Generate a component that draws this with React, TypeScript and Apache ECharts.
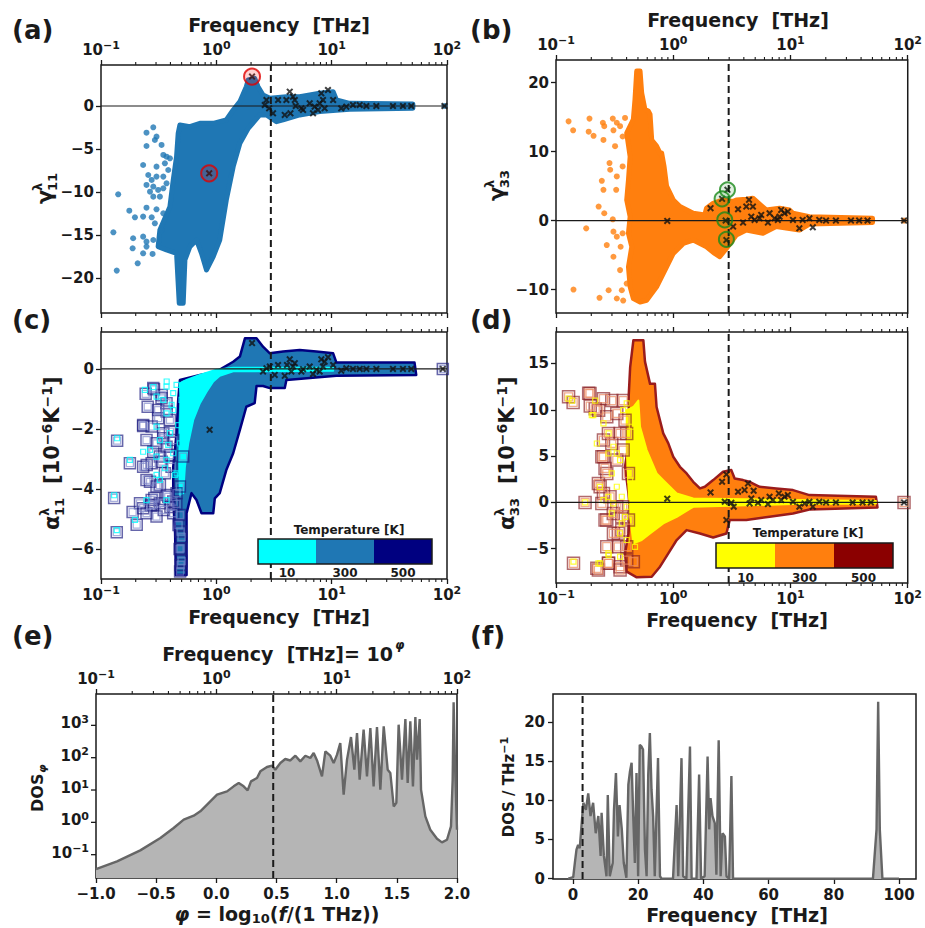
import React, { useEffect, useRef } from "react";
import * as echarts from "echarts";

type Pt = [number, number];

const FONT = "DejaVu Sans";
const INK = "#1a1a1a";
const WIDTH = 925;
const HEIGHT = 928;

// ---------- shared values ----------
const DASH_F = 2.97; // THz
const MINOR_F: number[] = [0.2, 0.3, 0.4, 0.5, 0.6, 0.7, 0.8, 0.9, 2, 3, 4, 5, 6, 7, 8, 9, 20, 30, 40, 50, 60, 70, 80, 90];
const A_YTICKS = [-20, -15, -10, -5, 0];
const B_YTICKS = [-10, 0, 10, 20];
const C_YTICKS = [-6, -4, -2, 0];
const D_YTICKS = [-5, 0, 5, 10, 15];
const E_XTICKS = [-1, -0.5, 0, 0.5, 1, 1.5, 2];
const E_YTICKS = [0.1, 1, 10, 100, 1000];
const F_XTICKS = [0, 20, 40, 60, 80, 100];
const F_YTICKS = [0, 5, 10, 15, 20];
const TEMPS = ["10", "300", "500"];
const BLUE_T = ["#00ffff", "#1f77b4", "#000080"];
const RED_T = ["#ffff00", "#ff7f0e", "#8b0000"];

// ---------- (a) gamma_11 ----------
const A_DENSE: Pt[] = [[0.483,-2.2],[0.59,-2.4],[0.72,-2.01],[0.94,-2.01],[1.22,-1.62],[1.4,-0.46],[1.6,0.51],[1.82,2.25],[1.89,3.03],[2.15,3.22],[2.3,2.25],[2.54,1.29],[2.91,0.9],[4.05,1.09],[5.28,1.09],[7.87,1.48],[10.3,1.67],[11.0,0.7],[14.3,0.31],[50.6,0.24],[50.6,-0.27],[14.3,-0.38],[7.87,-0.65],[5.28,-1.04],[3.79,-1.62],[3.32,-1.82],[2.72,-1.04],[2.38,-1.04],[1.89,-2.59],[1.6,-4.34],[1.4,-7.05],[1.22,-10.93],[1.07,-15.58],[0.94,-17.51],[0.822,-19.07],[0.744,-17.13],[0.673,-15.58],[0.59,-16.35],[0.534,-17.9],[0.516,-22.94],[0.477,-22.94],[0.452,-17.13],[0.37,-16.74],[0.313,-16.35],[0.324,-14.41],[0.396,-11.7],[0.423,-8.6],[0.452,-5.89],[0.467,-3.17]];
const A_DOTS: Pt[] = [[0.284,-2.48],[0.248,-3.1],[0.303,-3.56],[0.248,-4.65],[0.293,-3.95],[0.335,-4.53],[0.347,-5.69],[0.37,-5.89],[0.358,-6.66],[0.396,-6.08],[0.232,-6.86],[0.303,-7.05],[0.383,-7.44],[0.257,-8.02],[0.303,-8.21],[0.275,-8.6],[0.347,-8.21],[0.37,-8.99],[0.347,-9.57],[0.248,-9.18],[0.284,-9.37],[0.313,-9.76],[0.266,-9.96],[0.141,-10.27],[0.284,-10.54],[0.324,-10.54],[0.248,-11.82],[0.303,-12.01],[0.347,-12.48],[0.176,-12.17],[0.232,-12.86],[0.275,-12.94],[0.197,-12.94],[0.293,-13.64],[0.335,-14.41],[0.232,-15.19],[0.248,-15.77],[0.284,-15.58],[0.19,-15.38],[0.128,-14.69],[0.188,-16.55],[0.248,-16.35],[0.232,-17.13],[0.28,-17.2],[0.208,-18.29],[0.137,-19.14],[95,0]];
const A_CROSS: Pt[] = [[2.04,3.42],[0.867,-7.83],[2.63,0.12],[2.72,0.7],[2.87,-0.27],[3.1,-0.85],[3.43,0.7],[3.92,-1.04],[4.05,0.7],[4.33,1.67],[4.39,-0.85],[4.62,1.09],[4.79,0.7],[4.88,0],[5.46,-0.27],[5.65,-0.46],[6.45,0.31],[6.89,-0.85],[7.12,-0.08],[7.61,-0.46],[7.87,0.31],[8.13,1.48],[8.41,0.7],[8.69,-0.27],[9.29,1.86],[10.3,0.7],[12.1,-0.27],[13.4,-0.08],[15.3,0.12],[17.5,0.12],[20.0,0],[24.4,0],[34.0,0],[41.5,0],[49.0,0],[95,0]];
const A_RING: Pt[] = [[2.04,3.42],[0.867,-7.83]];

// ---------- (b) gamma_33 ----------
const B_DENSE: Pt[] = [[0.488,21.7],[0.521,21.7],[0.538,18.5],[0.574,16.1],[0.613,15.9],[0.634,15.4],[0.655,11.7],[0.721,10.8],[0.771,9.8],[0.796,9.8],[0.834,7.9],[0.877,5.0],[1.0,3.0],[1.14,2.04],[1.48,1.07],[1.86,0.83],[1.92,1.8],[2.19,2.52],[2.66,3.0],[3.24,2.77],[3.45,3.0],[4.2,3.1],[4.78,3.25],[6.21,1.55],[8.07,1.8],[9.81,1.55],[10.5,1.07],[14.5,0.58],[50.1,0.34],[50.1,-0.29],[14.5,-0.49],[11.9,-1.36],[7.55,-0.87],[5.82,-1.84],[4.2,-1.36],[3.45,-2.09],[2.84,-4.03],[2.49,-5.24],[2.26,-4.76],[1.92,-3.79],[1.48,-2.82],[1.22,-3.3],[1.0,-4.76],[0.877,-6.7],[0.721,-9.61],[0.593,-11.55],[0.521,-11.8],[0.457,-11.31],[0.429,-9.61],[0.415,-6.7],[0.443,-3.79],[0.415,-1.84],[0.429,0.58],[0.401,3.0],[0.415,5.9],[0.429,9.3],[0.401,12.7],[0.457,14.7],[0.472,17.6]];
const B_DOTS: Pt[] = [[0.128,14.4],[0.14,13.1],[0.193,14.8],[0.19,12.9],[0.209,12.3],[0.251,14.2],[0.258,13.7],[0.305,14.8],[0.309,13.1],[0.33,14.2],[0.352,13.7],[0.37,12.2],[0.388,14.9],[0.254,11.7],[0.319,10.8],[0.286,8.35],[0.246,5.78],[0.29,7.38],[0.33,6.41],[0.37,7.86],[0.254,4.47],[0.326,4.47],[0.231,2.04],[0.258,1.07],[0.305,0.19],[0.181,-1.12],[0.271,-3.54],[0.309,-1.6],[0.33,-2.33],[0.37,-1.84],[0.356,-3.79],[0.309,-5.24],[0.352,-7.18],[0.141,-10.0],[0.235,-11.2],[0.281,-10.1],[0.33,-11.3],[0.374,-11.6],[0.401,-9.13],[0.364,-10.1],[93,0]];
const B_CROSS: Pt[] = [[0.889,-0.05],[2.08,1.8],[2.61,3.16],[2.9,4.47],[2.8,0],[2.84,-2.82],[3.24,-0.87],[3.57,1.65],[3.94,-0.29],[4.2,2.04],[4.43,3.01],[4.63,0.58],[4.78,2.04],[4.94,0.1],[5.45,0.34],[5.63,0.83],[6.42,-0.29],[6.63,1.07],[7.31,0.34],[7.8,0.1],[8.07,0.58],[8.33,1.55],[8.9,1.07],[9.49,1.31],[10.5,0.1],[11.9,-1.12],[12.7,0.1],[14.5,0.34],[15.5,-0.97],[17.6,0.1],[20.1,0],[24.4,0],[32.8,0],[38.5,0],[45.4,0],[93,0]];
const B_RING: Pt[] = [[2.61,3.16],[2.9,4.47],[2.75,0.1],[2.84,-2.72]];

// ---------- (c) alpha_11 ----------
const C_HOT_AREA: Pt[] = [[0.483,-0.37],[0.72,-0.2],[1.0,-0.09],[1.4,0.24],[1.6,0.41],[1.77,1.02],[2.23,1.02],[2.54,0.74],[2.91,0.52],[3.79,0.58],[5.28,0.63],[7.37,0.58],[10.3,0.52],[11.0,0.21],[52.3,0.21],[54.1,-0.2],[11.0,-0.23],[4.05,-0.37],[3.92,-0.64],[2.91,-0.64],[2.54,-0.57],[2.23,-0.57],[2.15,-1.14],[1.82,-1.26],[1.6,-2.03],[1.4,-2.81],[1.22,-3.37],[1.07,-4.14],[0.97,-4.31],[0.94,-4.81],[0.744,-4.81],[0.673,-4.37],[0.609,-4.14],[0.552,-4.81],[0.552,-6.87],[0.446,-6.87],[0.439,-5.48],[0.423,-4.37],[0.423,-3.26],[0.452,-2.14],[0.467,-1.03]];
const C_COLD_AREA: Pt[] = [[0.483,-0.48],[0.552,-0.37],[0.72,-0.2],[1.0,-0.03],[1.4,0.04],[10.3,0.04],[10.3,-0.06],[1.4,-0.08],[1.07,-0.23],[0.94,-0.42],[0.822,-0.76],[0.72,-1.14],[0.63,-1.7],[0.571,-2.48],[0.534,-3.26],[0.516,-4.14],[0.483,-4.2],[0.477,-3.03],[0.483,-2.14],[0.489,-1.03]];
const C_SQ_HOT: Pt[] = [[0.138,-2.39],[0.178,-3.14],[0.13,-4.3],[0.188,-4.77],[0.204,-5.19],[0.137,-5.44],[0.244,-0.83],[0.288,-0.68],[0.254,-1.26],[0.335,-0.98],[0.232,-1.9],[0.275,-1.92],[0.313,-1.37],[0.37,-1.14],[0.248,-2.37],[0.303,-2.48],[0.347,-2.14],[0.396,-1.7],[0.232,-3.26],[0.275,-3.14],[0.324,-2.92],[0.37,-2.59],[0.423,-2.37],[0.248,-3.7],[0.303,-3.92],[0.358,-3.48],[0.409,-3.26],[0.218,-4.48],[0.275,-4.37],[0.324,-4.48],[0.383,-4.26],[0.452,-4.14],[0.248,-4.81],[0.303,-4.92],[0.423,-4.81],[0.483,-3.92],[0.516,-2.92],[0.29,-4.3],[0.35,-4.7],[0.4,-4.6],[0.45,-4.5],[0.27,-4.55],[0.47,-5.2],[0.5,-5.6],[0.48,-6.0],[0.5,-6.4],[0.485,-6.75],[0.284,-0.64],[0.336,-0.87],[0.232,-1.87],[0.313,-1.64],[0.371,-1.42],[0.346,-2.31],[0.396,-2.09],[0.284,-2.76],[0.249,-3.2],[0.336,-3.09],[0.396,-2.87],[0.266,-3.76],[0.324,-3.87],[0.371,-4.2],[0.232,-4.64],[0.284,-4.53],[0.423,-4.42],[0.483,-4.87],[0.49,-5.42],[0.49,-5.98],[0.49,-6.53],[92,0]];
const C_SQ_COLD: Pt[] = [[0.138,-2.31],[0.178,-3.03],[0.13,-4.21],[0.197,-5.03],[0.137,-5.37],[0.24,-0.7],[0.284,-0.61],[0.303,-0.92],[0.347,-1.03],[0.37,-1.48],[0.303,-1.92],[0.423,-1.37],[0.266,-2.7],[0.324,-2.37],[0.37,-3.03],[0.423,-2.81],[0.452,-3.48],[0.248,-4.37],[0.324,-3.7],[0.37,-4.37],[0.483,-2.48],[0.516,-1.92],[0.552,-1.26],[0.59,-1.03],[0.499,-1.03],[0.37,-0.59],[0.423,-0.81],[0.552,-0.48],[0.63,-0.59],[0.303,-2.92],[0.232,-2.76],[0.396,-2.14],[0.371,-0.42],[0.452,-0.53],[0.409,-1.2],[0.467,-1.87],[0.383,-2.53],[0.303,-3.53],[0.437,-3.53],[0.358,-3.31]];
const C_CROSS: Pt[] = [[2.04,0.86],[0.875,-2.03],[2.54,-0.09],[2.72,0.02],[2.91,0.08],[3.21,-0.2],[3.43,0.13],[3.92,-0.23],[4.1,0.13],[4.33,0.32],[4.47,-0.09],[4.62,0.08],[4.79,0.19],[5.46,-0.09],[5.65,-0.01],[6.45,0.08],[6.89,-0.17],[7.37,-0.03],[7.87,-0.09],[8.13,0.32],[8.41,0.08],[8.69,0.24],[9.29,0.39],[10.3,0.13],[12.1,-0.06],[13.4,0.02],[15.3,0],[17.5,0],[20.0,0],[24.4,0],[34.0,0],[41.5,0],[49.0,0],[92,0]];

// ---------- (d) alpha_33 ----------
const D_HOT_AREA: Pt[] = [[0.457,17.5],[0.556,17.5],[0.574,15.2],[0.634,12.8],[0.698,12.8],[0.721,10.3],[0.822,7.45],[0.908,6.37],[1.0,4.93],[1.14,3.85],[1.3,3.13],[1.48,2.23],[1.69,1.51],[1.86,1.69],[2.19,2.41],[2.66,3.31],[3.13,3.49],[3.34,2.59],[3.94,2.41],[4.48,2.23],[5.45,1.69],[7.55,1.51],[10.5,1.33],[14.5,0.79],[53.5,0.61],[55.2,-0.54],[14.5,-0.76],[10.5,-1.19],[6.63,-1.55],[4.2,-1.91],[3.03,-1.91],[2.84,-3.35],[2.19,-3.78],[1.69,-3.35],[1.3,-2.99],[1.07,-4.06],[0.908,-5.5],[0.771,-6.94],[0.655,-8.02],[0.488,-8.09],[0.401,-7.48],[0.388,-5.5],[0.415,-3.35],[0.429,-1.19],[0.415,0.97],[0.388,3.85],[0.429,7.45],[0.415,11.0],[0.429,14.6]];
const D_COLD_AREA: Pt[] = [[0.401,9.96],[0.457,10.3],[0.504,11.0],[0.521,8.17],[0.593,5.65],[0.721,3.13],[0.822,2.41],[1.07,0.97],[1.48,0.43],[10.5,0.25],[53.5,0.14],[53.5,-0.11],[10.5,-0.18],[1.48,-0.47],[1.07,-1.55],[0.822,-2.27],[0.634,-3.35],[0.538,-4.06],[0.457,-4.42],[0.429,-1.55],[0.415,1.69],[0.401,5.65]];
const D_SQ_HOT: Pt[] = [[0.128,11.4],[0.14,10.8],[0.19,11.8],[0.196,10.4],[0.254,11.2],[0.231,9.96],[0.271,9.24],[0.33,9.6],[0.299,11.0],[0.374,11.0],[0.254,4.93],[0.238,1.69],[0.271,3.13],[0.33,4.57],[0.374,5.65],[0.401,7.45],[0.246,-0.11],[0.33,-0.47],[0.271,-1.91],[0.37,-0.47],[0.177,0],[0.141,-6.58],[0.223,-7.12],[0.281,-6.58],[0.352,-6.94],[0.401,-4.78],[0.309,-3.35],[0.299,6.37],[0.352,7.45],[0.388,8.88],[0.254,6.73],[0.415,3.13],[0.415,-1.91],[0.457,-6.4],[0.271,-4.78],[0.364,-2.99],[0.195,11.76],[0.216,10.1],[0.28,7.44],[0.246,4.92],[0.262,3.67],[0.23,2.05],[0.254,0.97],[0.289,0.6],[0.262,-1.91],[0.308,-1.19],[0.364,-1.55],[0.34,-3.34],[0.23,-7.3],[0.28,-6.58],[0.352,-7.3],[0.401,-6.22],[0.34,-4.79],[93,0]];
const D_SQ_COLD: Pt[] = [[0.137,11.0],[0.141,-6.4],[0.177,0],[0.202,9.42],[0.216,11.0],[0.254,8.53],[0.281,7.45],[0.309,6.01],[0.33,5.29],[0.352,4.57],[0.374,9.96],[0.401,10.7],[0.299,3.13],[0.33,1.69],[0.364,0.61],[0.401,-0.47],[0.388,-1.55],[0.352,-3.35],[0.401,-4.06],[0.281,-5.68],[0.238,-6.58],[0.352,-5.86],[0.429,2.41],[0.457,4.57],[0.488,6.37],[0.443,8.17],[0.254,0.25],[0.299,-1.19],[0.128,11.2],[0.208,9.42],[0.223,6.36],[0.28,5.29],[0.237,1.68],[0.28,0.6],[0.308,-0.1],[0.364,-2.27],[0.28,-5.5],[0.23,-6.58],[0.472,-4.79]];
const D_CROSS: Pt[] = [[0.889,0.4],[2.08,1.08],[2.61,2.23],[2.84,3.02],[2.75,0.07],[2.84,-1.91],[3.13,-0.04],[3.28,-0.47],[3.57,1.15],[4.06,1.33],[4.34,2.05],[4.48,-0.11],[4.63,0.43],[4.85,1.26],[5.28,-0.04],[5.63,0.25],[6.42,-0.18],[6.63,0.61],[7.08,0.25],[7.96,0.97],[8.33,0.25],[8.9,0.61],[9.49,0.79],[10.5,0.07],[11.9,-0.47],[13.2,-0.11],[14.5,0.07],[15.5,-0.47],[17.6,0.07],[20.1,0],[24.4,0],[33.9,0],[41.2,0],[48.5,0],[93,0]];

// ---------- (e) DOS vs phi ----------
const E_PHI: number[] = [-1.0,-0.825,-0.632,-0.465,-0.355,-0.271,-0.188,-0.133,-0.05,0.006,0.089,0.144,0.186,0.227,0.26,0.288,0.338,0.366,0.421,0.463,0.49,0.532,0.573,0.615,0.657,0.698,0.74,0.781,0.809,0.837,0.878,0.906,0.947,0.975,1.003,1.03,1.058,1.086,1.119,1.147,1.169,1.191,1.224,1.252,1.28,1.307,1.335,1.363,1.391,1.424,1.446,1.474,1.496,1.515,1.543,1.571,1.59,1.612,1.634,1.654,1.668,1.69,1.701,1.737,1.778,1.834,1.875,1.917,1.95,1.964,1.972,1.983,2.0];
const E_DOS: number[] = [0.036,0.062,0.136,0.33,0.67,1.21,1.61,2.19,4.46,7.2,9.1,13.0,16.5,13.0,9.8,18.5,23.5,37.8,51.5,56.6,42.6,68.4,91,82,115,77,115,98,140,82,26.5,157,115,68,124,284,7.2,87,435,42.6,580,20.9,735,26.5,828,13,889,10.3,931,42.6,33.6,3.1,4.0,1050,20.9,1570,16.5,1330,13,1810,87,1570,10.3,1.53,0.59,0.31,0.24,0.29,0.75,20.9,5140,68,0.59];

// ---------- (f) DOS vs frequency ----------
const F_FREQ: number[] = [-1.4,0.1,0.6,1.1,1.6,2.1,2.7,3.2,4.0,4.7,5.4,6.2,7.0,7.8,8.5,8.8,9.5,10.3,10.7,11.3,12.2,12.6,13.2,13.8,14.3,15.0,15.6,16.4,17.0,17.5,18.0,18.5,19.0,19.5,20.0,20.5,21.0,21.5,22.1,22.6,23.1,23.6,24.1,24.6,25.1,26.1,26.7,27.2,30.7,31.8,32.3,33.3,33.8,34.8,35.9,36.4,37.9,38.7,39.3,40.4,41.3,41.8,42.2,42.8,43.5,44.0,44.7,45.3,45.9,46.6,47.1,47.9,48.6,49.1,92.0,93.1,93.6,94.1,94.9,100];
const F_DOS: number[] = [0,0.2,2.0,3.7,4.3,3.9,7.1,9.7,8.8,10.9,8.0,9.7,5.8,8.0,2.9,8.4,2.9,0.3,10.7,0.3,2.0,8.8,13.5,5.4,9.4,6.3,2.0,0.1,12.0,13.7,14.8,8.0,2.0,13.5,0.3,17.1,16.9,16.5,3.7,0.3,13.3,18.6,11.4,8.0,0.3,15.4,0.3,0,0,9.4,0.3,15.4,0.3,0,16.9,0,0,13.3,0,0.3,15.6,6.3,10.3,8.0,7.1,0.5,17.7,0.3,5.8,5.4,0.3,0,13.1,0,0,6.3,22.6,6.3,0,0];

// ---------- layout ----------
const GRIDS = [
  { left: 101, top: 65, width: 346, height: 248, y: [-24.07, 4.77] },
  { left: 556, top: 60, width: 353, height: 253, y: [-13.4, 23.3] },
  { left: 101, top: 332, width: 346, height: 247, y: [-7.0, 1.23] },
  { left: 556, top: 332, width: 353, height: 251, y: [-8.7, 18.4] },
  { left: 96, top: 694, width: 361, height: 184, y: [0.019, 9330] },
  { left: 553, top: 694, width: 363, height: 185, y: [-0.05, 23.6] },
];
const F_XRANGE = [-6.1, 105.2];

const minus = (s: string) => s.replace("-", "−");
const expOf = (v: number) => minus(String(Math.round(Math.log10(v))));
const powRich = (v: number) => `{b|10}{s|${expOf(v)}}`;
const font = (size: number, italic = false) => `${italic ? "italic " : ""}bold ${size}px "${FONT}"`;
const rs = (size: number, pad: number[] = [0, 0, 0, 0], italic = false) => ({
  fontFamily: FONT, fontWeight: "bold", fontStyle: italic ? "italic" : "normal", fontSize: size, color: INK, fill: INK, padding: pad,
});
const POW_RICH = { b: rs(15), s: rs(11, [0, 0, 8, 0]) };

const LABEL = { fontFamily: FONT, fontWeight: "bold", fontSize: 15, color: INK };
const TICK = { show: true, inside: false, length: 5, lineStyle: { color: INK, width: 1.3 } };
const CROSS = "path://M0,2L2,0L5,3L8,0L10,2L7,5L10,8L8,10L5,7L2,10L0,8L3,5Z";

function logX(gridIndex: number, position: string, labels: boolean) {
  return {
    type: "log", logBase: 10, gridIndex, position, min: 0.1, max: 100,
    axisLine: { show: false, onZero: false }, axisTick: TICK, splitLine: { show: false },
    axisLabel: { show: labels, margin: 6, formatter: (v: number) => powRich(v), rich: POW_RICH, ...LABEL },
  };
}
function valAxis(gridIndex: number, min: number, max: number, ticks: number[], fmt: (v: number) => string, margin: number) {
  return {
    type: "value", gridIndex, min, max,
    axisLine: { show: false, onZero: false }, splitLine: { show: false },
    axisTick: { ...TICK, customValues: ticks },
    axisLabel: { ...LABEL, margin, customValues: ticks, formatter: fmt },
  };
}
const intFmt = (v: number) => minus(String(v));

function polygon(xi: number, yi: number, pts: Pt[], fill: string, stroke: string, lw: number, z: number) {
  return {
    type: "custom", xAxisIndex: xi, yAxisIndex: yi, z, silent: true, clip: false,
    data: [pts[0]],
    renderItem: (_p: any, api: any) => ({
      type: "polygon",
      shape: { points: pts.map((p) => api.coord(p)) },
      style: { fill, stroke, lineWidth: lw, lineJoin: "round" },
    }),
  };
}
function scatter(xi: number, yi: number, data: Pt[], symbol: string, size: number, itemStyle: any, z: number) {
  return { type: "scatter", xAxisIndex: xi, yAxisIndex: yi, data, symbol, symbolSize: size, itemStyle, z, silent: true };
}
function line(xi: number, yi: number, data: Pt[], lineStyle: any, z: number, area?: any) {
  const s: any = { type: "line", xAxisIndex: xi, yAxisIndex: yi, data, showSymbol: false, symbol: "none", lineStyle, z, silent: true };
  if (area) s.areaStyle = area;
  return s;
}
function minorTicks(xi: number, yi: number, yv: number, top: boolean, bottom: boolean) {
  return {
    type: "custom", xAxisIndex: xi, yAxisIndex: yi, z: 9, silent: true, clip: false,
    data: MINOR_F.map((f) => [f, yv]),
    renderItem: (params: any, api: any) => {
      const cs = params.coordSys;
      const px = api.coord([api.value(0), api.value(1)])[0];
      const ch: any[] = [];
      const st = { stroke: INK, lineWidth: 1.1 };
      if (top) ch.push({ type: "line", shape: { x1: px, y1: cs.y, x2: px, y2: cs.y - 3 }, style: st });
      if (bottom) ch.push({ type: "line", shape: { x1: px, y1: cs.y + cs.height, x2: px, y2: cs.y + cs.height + 3 }, style: st });
      return { type: "group", children: ch };
    },
  };
}
function panelSeries(xi: number, yi: number, yr: number[]) {
  return [
    line(xi, yi, [[0.1, 0], [100, 0]], { color: INK, width: 1.2 }, 5),
    line(xi, yi, [[DASH_F, yr[0]], [DASH_F, yr[1]]], { color: INK, width: 2, type: [7, 4] }, 6),
    minorTicks(xi, yi, 0, true, true),
  ];
}

const txt = (text: string, x: number, y: number, size: number, align = "center", extra: any = {}) => ({
  type: "text", x, y, z: 50, silent: true,
  style: { text, fill: INK, font: font(size), align, verticalAlign: "middle", ...extra },
});
const rotName = (x: number, y: number, children: any[]) => ({ type: "group", x, y, rotation: Math.PI / 2, z: 50, silent: true, children });
const gammaName = (x: number, y: number, sub: string) =>
  rotName(x, y, [txt("γ", -14, 0, 21, "left"), txt("λ", -1, -8, 13, "left"), txt(sub, -1, 7, 13, "left")]);
const UNIT_RICH = { s: rs(14, [0, 0, 11, 0]) };
const alphaName = (x: number, y: number, sub: string) =>
  rotName(x, y, [
    txt("α", -77, 0, 21, "left"), txt("λ", -63, -8, 13, "left"), txt(sub, -63, 7, 13, "left"),
    txt("[10{s|−6}K{s|−1}]", -31, 0, 21, "left", { rich: UNIT_RICH }),
  ]);

function colorbar(x0: number, y0: number, segW: number, h: number, colors: string[], titleX: number, titleY: number, labelY: number) {
  const els: any[] = colors.map((c, i) => ({
    type: "rect", z: 40, silent: true, shape: { x: x0 + i * segW, y: y0, width: segW, height: h }, style: { fill: c },
  }));
  els.push({ type: "rect", z: 41, silent: true, shape: { x: x0, y: y0, width: segW * colors.length, height: h }, style: { fill: "none", stroke: INK, lineWidth: 1.5 } });
  els.push(txt("Temperature [K]", titleX, titleY, 12));
  TEMPS.forEach((t, i) => els.push(txt(t, x0 + segW * (i + 0.5), labelY, 12)));
  return els;
}

export default function App() {
  const ref = useRef<HTMLDivElement>(null);
  useEffect(() => {
    if (!ref.current) return;
    const chart = echarts.init(ref.current, null, { renderer: "svg", width: WIDTH, height: HEIGHT });
    const G = GRIDS;
    const ringRed = { color: "rgba(255,0,0,0.22)", borderColor: "#e00000", borderWidth: 2 };
    const ringGreen = { color: "rgba(0,128,0,0.15)", borderColor: "#1a8a1a", borderWidth: 2 };
    const crossStyle = { color: "#111111" };
    const hollow = (c: string, w: number) => ({ color: "rgba(0,0,0,0)", borderColor: c, borderWidth: w });

    const series: any[] = [
      // (a)
      polygon(0, 0, A_DENSE, BLUE_T[1], BLUE_T[1], 5, 2),
      scatter(0, 0, A_DOTS, "circle", 6, { color: BLUE_T[1] }, 3),
      ...panelSeries(0, 0, G[0].y),
      scatter(0, 0, A_CROSS, CROSS, 7, crossStyle, 7),
      scatter(0, 0, A_RING, "circle", 16, ringRed, 8),
      // (b)
      polygon(2, 1, B_DENSE, RED_T[1], RED_T[1], 5, 2),
      scatter(2, 1, B_DOTS, "circle", 6, { color: RED_T[1] }, 3),
      ...panelSeries(2, 1, G[1].y),
      scatter(2, 1, B_CROSS, CROSS, 7, crossStyle, 7),
      scatter(2, 1, B_RING, "circle", 15, ringGreen, 8),
      // (c)
      polygon(4, 2, C_HOT_AREA, BLUE_T[1], BLUE_T[2], 2.5, 2),
      polygon(4, 2, C_COLD_AREA, BLUE_T[0], BLUE_T[0], 2, 2),
      scatter(4, 2, C_SQ_HOT, "rect", 11, hollow("rgba(30,30,130,0.85)", 1.5), 3),
      scatter(4, 2, C_SQ_HOT, "rect", 7, hollow("rgba(120,130,200,0.8)", 1.3), 3),
      scatter(4, 2, C_SQ_COLD, "rect", 5, hollow(BLUE_T[0], 1.2), 4),
      ...panelSeries(4, 2, G[2].y),
      scatter(4, 2, C_CROSS, CROSS, 7, crossStyle, 7),
      // (d)
      polygon(6, 3, D_HOT_AREA, RED_T[1], "#9a1c1c", 2.5, 2),
      polygon(6, 3, D_COLD_AREA, RED_T[0], RED_T[0], 2, 2),
      scatter(6, 3, D_SQ_HOT, "rect", 12, hollow("rgba(140,35,40,0.85)", 1.5), 3),
      scatter(6, 3, D_SQ_HOT, "rect", 8, hollow("rgba(235,140,100,0.9)", 1.3), 3),
      scatter(6, 3, D_SQ_COLD, "rect", 5, hollow(RED_T[0], 1.2), 4),
      ...panelSeries(6, 3, G[3].y),
      scatter(6, 3, D_CROSS, CROSS, 7, crossStyle, 7),
      // (e)
      line(8, 4, E_PHI.map((p, i) => [p, E_DOS[i]] as Pt), { color: "#666666", width: 2.4 }, 2, { color: "#b5b5b5", opacity: 1, origin: "start" }),
      line(9, 4, [[DASH_F, G[4].y[0]], [DASH_F, G[4].y[1]]], { color: INK, width: 2, type: [7, 4] }, 6),
      minorTicks(9, 4, 1, true, false),
      {
        type: "custom", xAxisIndex: 8, yAxisIndex: 4, z: 9, silent: true, clip: false,
        data: E_YTICKS.map((v) => [0, v]),
        renderItem: (params: any, api: any) => {
          const cs = params.coordSys;
          const y = api.coord([api.value(0), api.value(1)])[1];
          return {
            type: "group",
            children: [
              { type: "line", shape: { x1: cs.x, y1: y, x2: cs.x - 5, y2: y }, style: { stroke: INK, lineWidth: 1.3 } },
              { type: "text", x: cs.x - 7, y: y - 2, style: { text: powRich(api.value(1)), rich: POW_RICH, fill: INK, font: font(15), align: "right", verticalAlign: "middle" } },
            ],
          };
        },
      },
      // (f)
      line(10, 5, F_FREQ.map((f, i) => [f, F_DOS[i]] as Pt), { color: "#666666", width: 2.4 }, 2, { color: "#b5b5b5", opacity: 1, origin: "start" }),
      line(10, 5, [[DASH_F, G[5].y[0]], [DASH_F, G[5].y[1]]], { color: INK, width: 2, type: [7, 4] }, 6),
    ];

    const graphics: any[] = [
      txt("(a)", 12, 30, 26, "left"),
      txt("(b)", 470, 30, 26, "left"),
      txt("(c)", 12, 320, 26, "left"),
      txt("(d)", 470, 320, 26, "left"),
      txt("(e)", 12, 636, 26, "left"),
      txt("(f)", 470, 636, 26, "left"),
      txt("Frequency  [THz]", 279, 25, 19),
      txt("Frequency  [THz]", 738, 20, 19),
      txt("Frequency  [THz]", 279, 617, 19),
      txt("Frequency  [THz]", 737, 620, 19),
      txt("Frequency  [THz]", 737, 915, 19),
      txt("Frequency  [THz]= 10", 393, 654, 19, "right"),
      txt("φ", 395, 645, 12, "left", { font: font(12, true) }),
      txt("{i|φ} = log{sub|10}({i|f}/(1 THz))", 277, 914, 19, "center", { rich: { i: rs(19, [0, 0, 0, 0], true), sub: rs(13, [9, 0, 0, 0]) } }),
      gammaName(45, 190, "11"),
      gammaName(497, 187, "33"),
      alphaName(52, 453, "11"),
      alphaName(507, 453, "33"),
      rotName(37, 788, [txt("DOS", -24, 0, 16, "left"), txt("φ", 15, 5, 11, "left", { font: font(11, true) })]),
      rotName(509, 787, [txt("DOS / THz{s|−1}", 0, 0, 15, "center", { rich: { s: rs(11, [0, 0, 9, 0]) } })]),
      ...colorbar(258, 539, 58, 25, BLUE_T, 349, 530, 573),
      ...colorbar(716, 543, 59, 25, RED_T, 808, 533, 578),
    ];

    chart.setOption({
      animation: false,
      backgroundColor: "#ffffff",
      textStyle: { fontFamily: FONT },
      grid: G.map((g) => ({ left: g.left, top: g.top, width: g.width, height: g.height, show: true, borderColor: INK, borderWidth: 1.5, backgroundColor: "rgba(0,0,0,0)" })),
      xAxis: [
        logX(0, "bottom", false),
        logX(0, "top", true),
        logX(1, "bottom", false),
        logX(1, "top", true),
        logX(2, "bottom", true),
        logX(2, "top", false),
        logX(3, "bottom", true),
        logX(3, "top", false),
        valAxis(4, -1, 2, E_XTICKS, (v: number) => minus(v.toFixed(1)), 8),
        logX(4, "top", true),
        valAxis(5, F_XRANGE[0], F_XRANGE[1], F_XTICKS, intFmt, 8),
      ],
      yAxis: [
        valAxis(0, G[0].y[0], G[0].y[1], A_YTICKS, intFmt, 7),
        valAxis(1, G[1].y[0], G[1].y[1], B_YTICKS, intFmt, 7),
        valAxis(2, G[2].y[0], G[2].y[1], C_YTICKS, intFmt, 7),
        valAxis(3, G[3].y[0], G[3].y[1], D_YTICKS, intFmt, 7),
        { type: "log", logBase: 10, gridIndex: 4, min: G[4].y[0], max: G[4].y[1], axisLine: { show: false, onZero: false }, axisTick: { show: false }, axisLabel: { show: false }, splitLine: { show: false } },
        valAxis(5, G[5].y[0], G[5].y[1], F_YTICKS, intFmt, 8),
      ],
      series,
      graphic: { elements: graphics },
    });
    return () => chart.dispose();
  }, []);
  return <div ref={ref} style={{ position: "absolute", left: 0, top: 0, width: WIDTH, height: HEIGHT, background: "#fff" }} />;
}
